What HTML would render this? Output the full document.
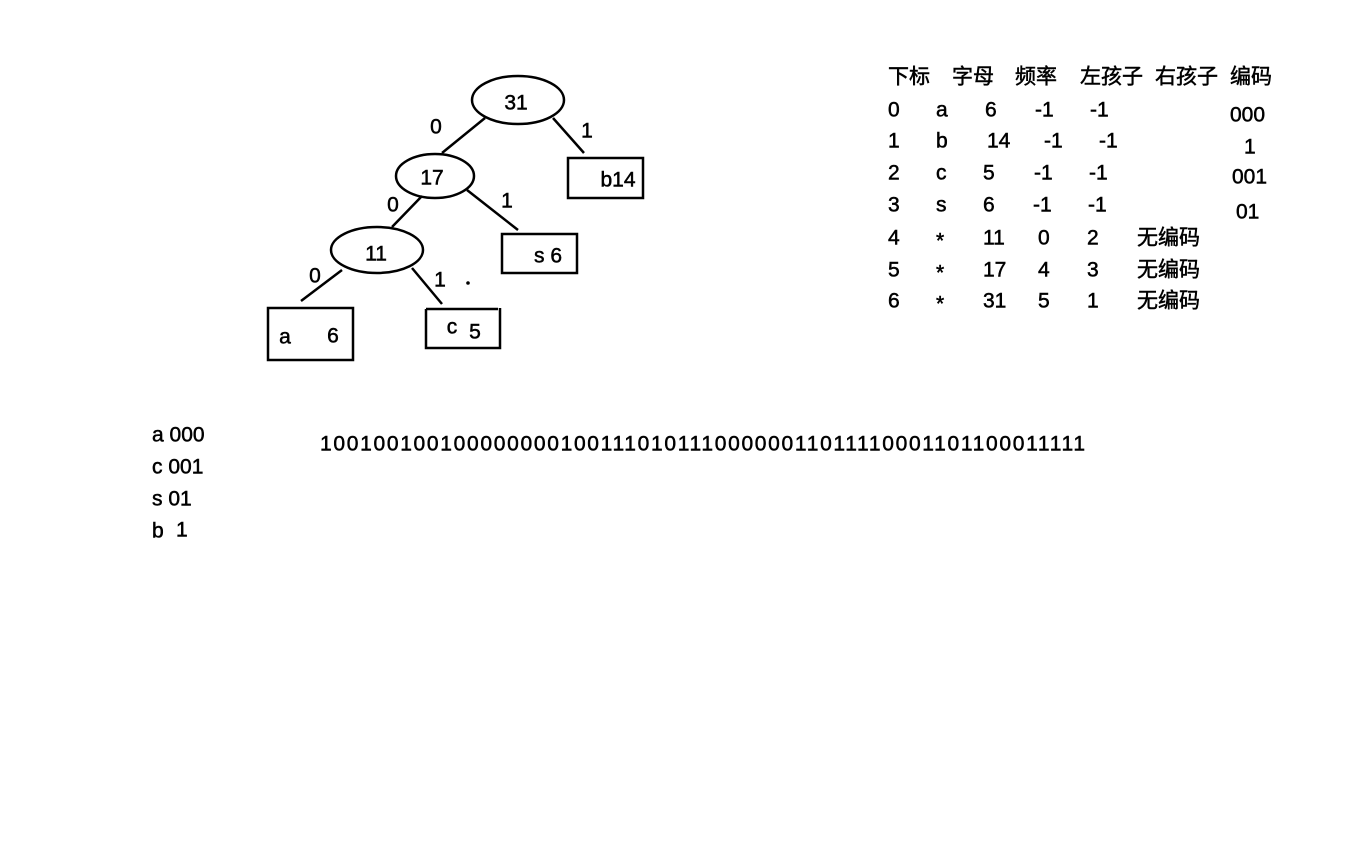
<!DOCTYPE html>
<html><head><meta charset="utf-8"><style>
html,body{margin:0;padding:0;background:#fff;}
svg text{font-family:"Liberation Sans","Noto Sans CJK SC",sans-serif;font-size:21px;fill:#000;dominant-baseline:central;stroke:#000;stroke-width:0.5px;}
</style></head><body>
<svg width="1363" height="863" viewBox="0 0 1363 863" xmlns="http://www.w3.org/2000/svg">
<g fill="none" stroke="#000" stroke-width="2.5">
<ellipse cx="518" cy="100" rx="46" ry="24"/>
<ellipse cx="435" cy="176" rx="39" ry="22"/>
<ellipse cx="377" cy="250" rx="46" ry="23"/>
<rect x="568" y="158" width="75" height="40"/>
<rect x="502" y="234" width="75" height="39"/>
<rect x="268" y="308" width="85" height="52"/>
<path d="M426 309 H498 M500 308 V348 H426 V309"/>
<line x1="485" y1="118" x2="442" y2="153"/>
<line x1="553" y1="118" x2="584" y2="153"/>
<line x1="422" y1="196" x2="392" y2="227"/>
<line x1="467" y1="190" x2="518" y2="230"/>
<line x1="342" y1="270" x2="301" y2="301"/>
<line x1="412" y1="268" x2="442" y2="304"/>
</g>
<circle cx="468" cy="283" r="1.8" fill="#000"/>
<g text-anchor="middle">
<text x="516" y="103">31</text>
<text x="436" y="127">0</text>
<text x="587" y="131">1</text>
<text x="432" y="178">17</text>
<text x="393" y="205">0</text>
<text x="507" y="201">1</text>
<text x="376" y="254">11</text>
<text x="315" y="276">0</text>
<text x="440" y="280">1</text>
<text x="618" y="180">b14</text>
<text x="548" y="256">s 6</text>
<text x="285" y="337">a</text>
<text x="333" y="336">6</text>
<text x="452" y="327">c</text>
<text x="475" y="332">5</text>
</g>
<g>
<text x="888" y="77">下标</text><text x="952" y="77">字母</text><text x="1015" y="77">频率</text><text x="1080" y="77">左孩子</text><text x="1155" y="77">右孩子</text><text x="1230" y="77">编码</text>
<text x="888" y="110">0</text><text x="936" y="110">a</text><text x="985" y="110">6</text><text x="1035" y="110">-1</text><text x="1090" y="110">-1</text>
<text x="888" y="141">1</text><text x="936" y="141">b</text><text x="987" y="141">14</text><text x="1044" y="141">-1</text><text x="1099" y="141">-1</text>
<text x="888" y="173">2</text><text x="936" y="173">c</text><text x="983" y="173">5</text><text x="1034" y="173">-1</text><text x="1089" y="173">-1</text>
<text x="888" y="205">3</text><text x="936" y="205">s</text><text x="983" y="205">6</text><text x="1033" y="205">-1</text><text x="1088" y="205">-1</text>
<text x="888" y="238">4</text><text x="936" y="241">*</text><text x="983" y="238">11</text><text x="1038" y="238">0</text><text x="1087" y="238">2</text><text x="1137" y="238">无编码</text>
<text x="888" y="270">5</text><text x="936" y="273">*</text><text x="983" y="270">17</text><text x="1038" y="270">4</text><text x="1087" y="270">3</text><text x="1137" y="270">无编码</text>
<text x="888" y="301">6</text><text x="936" y="304">*</text><text x="983" y="301">31</text><text x="1038" y="301">5</text><text x="1087" y="301">1</text><text x="1137" y="301">无编码</text>
<text x="1230" y="115">000</text><text x="1244" y="147">1</text><text x="1232" y="177">001</text><text x="1236" y="212">01</text>
<text x="152" y="435">a 000</text>
<text x="152" y="467">c 001</text>
<text x="152" y="499">s 01</text>
<text x="152" y="531">b</text><text x="176" y="530">1</text>
<text x="320" y="444" textLength="765" lengthAdjust="spacing">10010010010000000010011101011100000011011110001101100011111</text>
</g>
</svg>
</body></html>
